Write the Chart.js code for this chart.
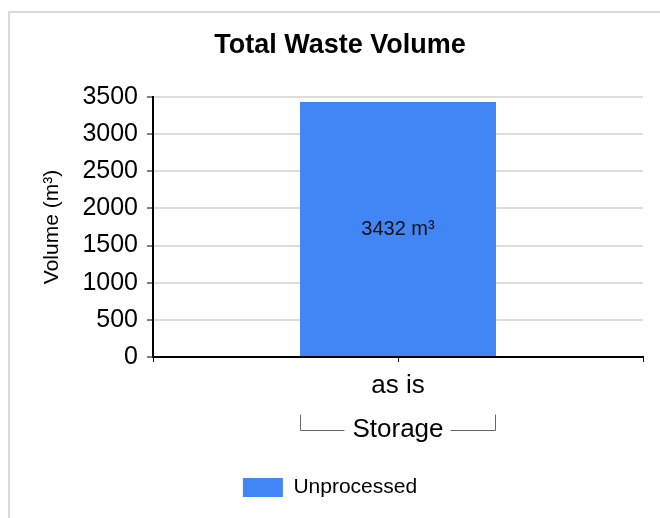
<!DOCTYPE html>
<html><head><meta charset="utf-8">
<script src="https://cdn.jsdelivr.net/npm/chart.js@4/dist/chart.umd.min.js"></script>
<style>html,body{margin:0;padding:0;background:#fff}canvas{display:block}</style>
</head><body>
<canvas id="c" width="660" height="518"></canvas>
<script>
const chartTitle = 'Total Waste Volume';
const categories = ['as is'];
const groups = ['Storage'];
const seriesName = 'Unprocessed';
const values = [3432];
const unit = 'm³';
const yTicks = [0, 500, 1000, 1500, 2000, 2500, 3000, 3500];
const yTitle = 'Volume (m³)';

const FONT = '"Liberation Sans", Arial, sans-serif';
const BLUE = '#4285f4';

const decor = {
  id: 'decor',
  beforeDraw(chart) {
    const ctx = chart.ctx;
    ctx.save();
    ctx.fillStyle = '#fff';
    ctx.fillRect(0, 0, chart.width, chart.height);
    ctx.strokeStyle = '#dadada';
    ctx.lineWidth = 2;
    ctx.strokeRect(9, 12, chart.width + 20, chart.height + 20);
    ctx.fillStyle = '#000';
    ctx.font = 'bold 27px ' + FONT;
    ctx.textAlign = 'center';
    ctx.textBaseline = 'alphabetic';
    ctx.fillText(chartTitle, 340, 53);
    ctx.restore();
  },
  afterDraw(chart) {
    const ctx = chart.ctx;
    const xs = chart.scales.x;
    const area = chart.chartArea;
    ctx.save();
    ctx.strokeStyle = '#000';
    ctx.lineWidth = 1;
    categories.forEach((c, i) => {
      const px = Math.round(xs.getPixelForValue(i)) + 0.5;
      ctx.beginPath();
      ctx.moveTo(px, area.bottom);
      ctx.lineTo(px, area.bottom + 5);
      ctx.stroke();
    });
    const meta = chart.getDatasetMeta(0);
    const lh = 26 * 1.72;
    const labelMid = xs.top + 5 + 1 + lh * 1.5;
    meta.data.forEach((bar, i) => {
      const p = bar.getProps(['x', 'y', 'base', 'width'], true);
      ctx.fillStyle = '#111';
      ctx.font = '20px ' + FONT;
      ctx.textAlign = 'center';
      ctx.textBaseline = 'middle';
      ctx.fillText(values[i] + ' ' + unit, p.x, (p.y + p.base) / 2);
      ctx.font = '26px ' + FONT;
      const tw = ctx.measureText(groups[i]).width;
      const l = Math.round(p.x - p.width / 2) + 0.5;
      const r = Math.round(p.x + p.width / 2) - 0.5;
      const yb = Math.round(labelMid) + 0.5;
      const yt = yb - 16;
      ctx.strokeStyle = '#666';
      ctx.lineWidth = 1;
      ctx.beginPath();
      ctx.moveTo(l, yt); ctx.lineTo(l, yb); ctx.lineTo(p.x - tw / 2 - 8, yb);
      ctx.moveTo(p.x + tw / 2 + 7, yb); ctx.lineTo(r, yb); ctx.lineTo(r, yt);
      ctx.stroke();
    });
    ctx.restore();
  }
};

new Chart(document.getElementById('c'), {
  type: 'bar',
  data: {
    labels: categories.map((c, i) => [c, groups[i]]),
    datasets: [{
      label: seriesName,
      data: values,
      backgroundColor: BLUE,
      borderWidth: 0,
      barPercentage: 0.4,
      categoryPercentage: 1
    }]
  },
  options: {
    responsive: false,
    animation: false,
    devicePixelRatio: 1,
    layout: { padding: { top: 97, right: 0, bottom: 10, left: 0 } },
    plugins: {
      title: { display: false },
      tooltip: { enabled: false },
      legend: {
        display: true,
        position: 'bottom',
        labels: {
          boxWidth: 40,
          boxHeight: 19,
          padding: 10,
          color: '#000',
          font: { family: FONT, size: 21 }
        }
      }
    },
    scales: {
      x: {
        offset: true,
        grid: {
          offset: true,
          drawOnChartArea: false,
          drawTicks: true,
          tickLength: 5,
          color: '#000',
          tickColor: '#000',
          lineWidth: 1
        },
        border: { display: true, color: '#000', width: 2 },
        ticks: {
          color: '#000',
          padding: 1,
          maxRotation: 0,
          font: { family: FONT, size: 26, lineHeight: 1.72 }
        },
        afterFit(s) { s.height = 110; s.paddingRight = 17; s.paddingLeft = 0; }
      },
      y: {
        min: 0,
        max: 3500,
        afterBuildTicks(s) { s.ticks = yTicks.map(v => ({ value: v })); },
        grid: {
          color: ctx => (ctx.tick && ctx.tick.value === 0) ? 'rgba(0,0,0,0)' : '#dddddd',
          lineWidth: 2,
          tickColor: '#000',
          tickWidth: 1,
          tickLength: 6
        },
        border: { display: true, color: '#000', width: 2 },
        ticks: {
          color: '#000',
          padding: 9,
          font: { family: FONT, size: 25 },
          callback: v => String(v)
        },
        title: {
          display: true,
          text: yTitle,
          color: '#000',
          padding: { top: 39.5, bottom: 0 },
          font: { family: FONT, size: 21 }
        },
        afterFit(s) { s.width = 153; }
      }
    }
  },
  plugins: [decor]
});
</script>
</body></html>
